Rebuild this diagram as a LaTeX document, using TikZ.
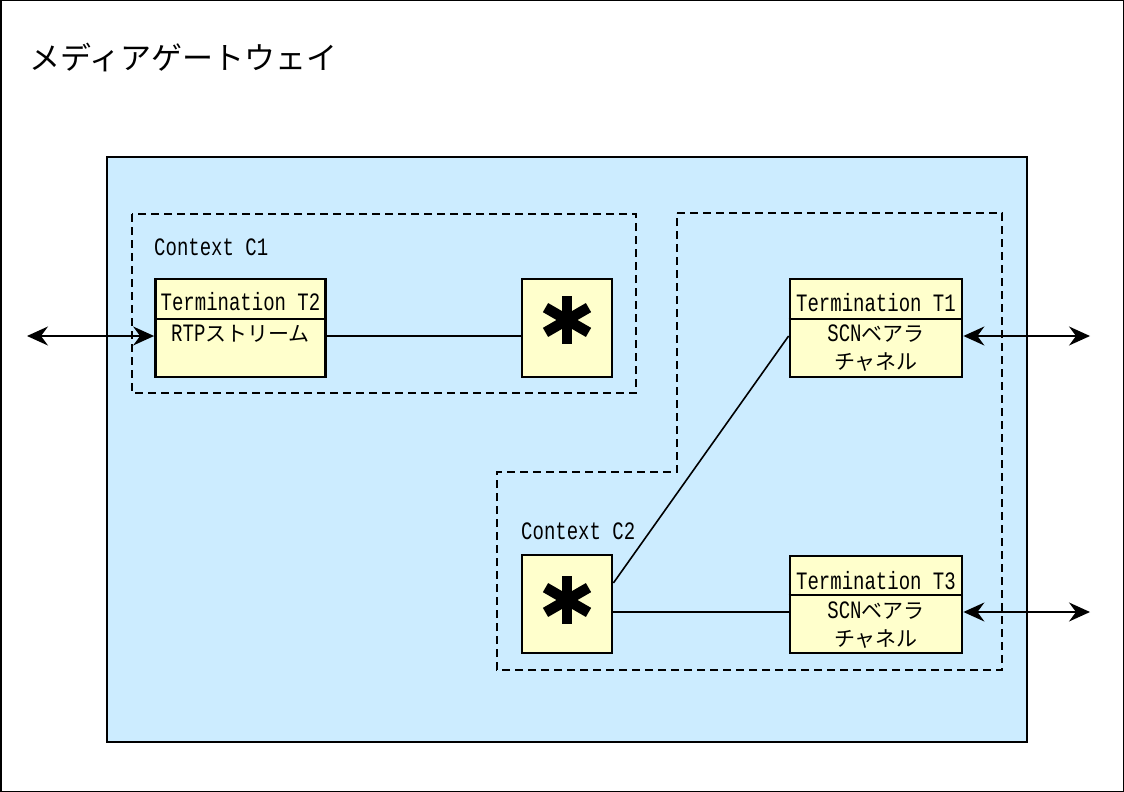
\documentclass[tikz,border=0pt]{standalone}
\usepackage{fontspec}
\usetikzlibrary{arrows.meta}
\newfontfamily\cjk[Scale=0.84]{Noto Sans CJK JP}
\newfontfamily\titlefont{Noto Sans CJK JP}
\newfontfamily\narrowmono[FakeStretch=0.76]{Liberation Mono}
\definecolor{gwblue}{RGB}{204,236,255}
\definecolor{termyellow}{RGB}{255,255,204}
\newcommand{\lat}[1]{{\narrowmono #1}}
\tikzset{
  frame/.style={draw=black, line width=2.2pt},
  termbox/.style={draw=black, line width=2.8pt, fill=termyellow, inner sep=0pt},
  ctxline/.style={draw=black, line width=1.8pt, dash pattern=on 8pt off 5pt},
  wire/.style={draw=black, line width=1.6pt},
  tip/.tip={Stealth[length=21pt,width=19pt,inset=7pt]},
  biarrow/.style={draw=black, line width=1.6pt, tip-tip},
  txt/.style={inner sep=0pt, font=\fontsize{25}{29}\selectfont},
  aster/.pic={
    \draw[line width=10.5pt] (0,-24) -- (0,24);
    \draw[line width=10.5pt] (-21.5,-12.4) -- (21.5,12.4);
    \draw[line width=10.5pt] (-21.5,12.4) -- (21.5,-12.4);
  }
}
\begin{document}
\begin{tikzpicture}[x=1pt,y=-1pt]
\useasboundingbox (0,0) rectangle (1124,792);
% outer frame of the media gateway
\draw[line width=1.5pt] (0.75,0.75) rectangle (1123.25,791.25);
\node[inner sep=0pt, anchor=west, font=\titlefont\fontsize{31}{36}\selectfont] (title) at (29,58) {メディアゲートウェイ};

% gateway body
\draw[frame, fill=gwblue] (107,157) rectangle (1027,742);

% contexts
\draw[ctxline] (132,214) rectangle (636,393);
\draw[ctxline] (677,213) -- (1002,213) -- (1002,670) -- (497,670) -- (497,472) -- (677,472) -- cycle;
\node[txt, anchor=west] (c1) at (154,247) {\lat{Context C1}};
\node[txt, anchor=west] (c2) at (521,531) {\lat{Context C2}};

% terminations
\node[termbox, minimum width=170pt, minimum height=98pt] (t2) at (240.5,328) {};
\node[termbox, minimum width=172pt, minimum height=98pt] (t1) at (876,328) {};
\node[termbox, minimum width=172pt, minimum height=97pt] (t3) at (876,604.5) {};
\draw[line width=2pt] ([yshift=-41pt]t2.north west) -- ([yshift=-41pt]t2.north east);
\draw[line width=2pt] ([yshift=-41pt]t1.north west) -- ([yshift=-41pt]t1.north east);
\draw[line width=2pt] ([yshift=-40pt]t3.north west) -- ([yshift=-40pt]t3.north east);

\node[txt] (t2a) at ([yshift=-24pt]t2.north) {\lat{Termination T2}};
\node[txt] (t2b) at ([yshift=-56pt]t2.north) {\lat{RTP}{\cjk ストリーム}};
\node[txt] (t1a) at ([yshift=-25pt]t1.north) {\lat{Termination T1}};
\node[txt] (t1b) at ([yshift=-56pt]t1.north) {\lat{SCN}{\cjk ベアラ}};
\node[txt] (t1c) at ([yshift=-84pt]t1.north) {\cjk チャネル};
\node[txt] (t3a) at ([yshift=-26pt]t3.north) {\lat{Termination T3}};
\node[txt] (t3b) at ([yshift=-56pt]t3.north) {\lat{SCN}{\cjk ベアラ}};
\node[txt] (t3c) at ([yshift=-84pt]t3.north) {\cjk チャネル};

% context switching points
\node[termbox, minimum width=90pt, minimum height=98pt] (s1) at (567,328) {};
\node[termbox, minimum width=90pt, minimum height=98pt] (s2) at (567,604) {};
\pic at (567,320) {aster};
\pic at (567,600) {aster};

% connections
\coordinate (l2) at (27,336);
\coordinate (r1) at (1090,336);
\coordinate (r3) at (1090,612);
\draw[biarrow] (l2) -- (l2 -| t2.west);
\draw[wire] (t2.east |- l2) -- (s1.west |- l2);
\draw[wire] ([yshift=21pt]s2.east) -- ([yshift=-8pt]t1.west);
\draw[wire] (s2.east |- r3) -- (t3.west |- r3);
\draw[biarrow] (t1.east |- r1) -- (r1);
\draw[biarrow] (t3.east |- r3) -- (r3);
\end{tikzpicture}
\end{document}
